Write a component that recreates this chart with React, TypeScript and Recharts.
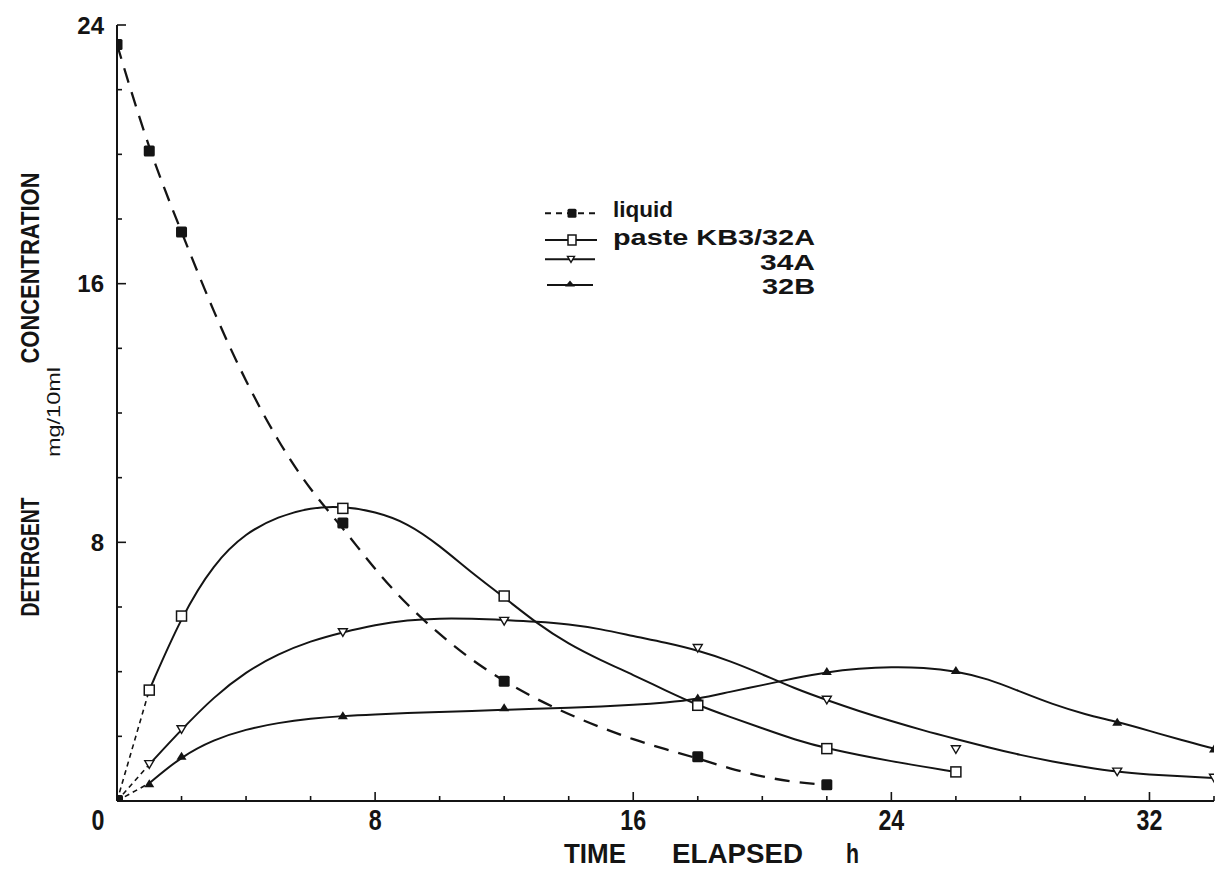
import { LineChart, Line, XAxis, YAxis, Legend } from 'recharts'

// time elapsed (h) and detergent concentration (mg/10ml)
const timeTicks = [0, 2, 4, 6, 8, 10, 12, 14, 16, 18, 20, 22, 24, 26, 28, 30, 32, 34]
const concTicks = [0, 2, 4, 6, 8, 10, 12, 14, 16, 18, 20, 22, 24]

// measured points
const liquidPoints = [[0, 23.4], [1, 20.1], [2, 17.6], [7, 8.6], [12, 3.7], [18, 1.37], [22, 0.5]]
const paste32APoints = [[1, 3.43], [2, 5.72], [7, 9.05], [12, 6.34], [18, 2.96], [22, 1.62], [26, 0.9]]
const paste34APoints = [[1, 1.13], [2, 2.21], [7, 5.21], [12, 5.56], [18, 4.72], [22, 3.12], [26, 1.59], [31, 0.9], [34, 0.71]]
const paste32BPoints = [[1, 0.55], [2, 1.4], [7, 2.65], [12, 2.9], [18, 3.2], [22, 4.02], [26, 4.05], [31, 2.45], [34, 1.62]]

// hand-drawn curves
const liquidCurve = [[0, 23.4], [1, 20.1], [2, 17.6], [3, 15.1], [4, 12.95], [5, 11.1], [6, 9.6], [7, 8.45], [8, 7.15], [9, 6.05], [10, 5.15], [11, 4.35], [12, 3.7], [13, 3.15], [14, 2.68], [15, 2.27], [16, 1.9], [17, 1.6], [18, 1.32], [19, 1.0], [20, 0.75], [21, 0.58], [22, 0.5]]
const paste32ACurve = [[1, 3.43], [2, 5.72], [3, 7.35], [4, 8.3], [5, 8.8], [6, 9.08], [7, 9.12], [8, 8.95], [9, 8.6], [10, 7.9], [11, 7.05], [12, 6.3], [13, 5.5], [14, 4.85], [15, 4.35], [16, 3.9], [17, 3.42], [18, 2.96], [19, 2.6], [20, 2.25], [21, 1.9], [22, 1.62], [24, 1.22], [26, 0.9]]
const paste34ACurve = [[1, 1.13], [2, 2.21], [3, 3.22], [4, 4.0], [5, 4.55], [6, 4.95], [7, 5.22], [8, 5.45], [9, 5.6], [10, 5.65], [11, 5.64], [12, 5.6], [13, 5.55], [14, 5.47], [15, 5.32], [16, 5.1], [17, 4.9], [18, 4.66], [19, 4.33], [20, 3.92], [21, 3.48], [22, 3.12], [23, 2.78], [24, 2.47], [25, 2.18], [26, 1.92], [27, 1.66], [28, 1.42], [29, 1.22], [30, 1.05], [31, 0.9], [32, 0.82], [33, 0.76], [34, 0.71]]
const paste32BCurve = [[1, 0.55], [2, 1.38], [3, 1.9], [4, 2.22], [5, 2.42], [6, 2.55], [7, 2.63], [8, 2.68], [9, 2.72], [10, 2.75], [11, 2.78], [12, 2.82], [13, 2.85], [14, 2.88], [15, 2.92], [16, 2.97], [17, 3.04], [18, 3.15], [19, 3.38], [20, 3.58], [21, 3.8], [22, 3.99], [23, 4.1], [24, 4.15], [25, 4.13], [26, 4.02], [27, 3.78], [28, 3.38], [29, 2.99], [30, 2.68], [31, 2.45], [32, 2.17], [33, 1.88], [34, 1.62]]

const legendLabels = ['liquid', 'paste KB3/32A', '34A', '32B']

const rows = (pts: number[][]) => pts.map(([x, y]) => ({ x, y }))
const leadIn = (pts: number[][]) => rows([[0, 0], pts[0]])

const INK = '#141414'
const FONT = '"Liberation Sans", Arial, Helvetica, sans-serif'

function FilledSquare({ cx, cy, s = 11 }: any) {
  return <rect x={cx - s / 2} y={cy - s / 2} width={s} height={s} rx={1.5} fill={INK} />
}
function OpenSquare({ cx, cy, w = 10, h = 10 }: any) {
  return <rect x={cx - w / 2} y={cy - h / 2} width={w} height={h} fill="#fff" stroke={INK} strokeWidth={1.5} />
}
function DownTriangle({ cx, cy, s = 9 }: any) {
  const h = s * 0.85
  return <path d={`M${cx - s / 2},${cy - h / 2} L${cx + s / 2},${cy - h / 2} L${cx},${cy + h / 2} Z`} fill="#fff" stroke={INK} strokeWidth={1.4} />
}
function UpTriangle({ cx, cy, s = 10, h = 8 }: any) {
  return <path d={`M${cx - s / 2},${cy + h / 2} L${cx + s / 2},${cy + h / 2} L${cx},${cy - h / 2} Z`} fill={INK} />
}

function TimeTick({ x, y, payload }: any) {
  const v = payload.value
  const major = v % 8 === 0
  return (
    <g>
      <line x1={x} x2={x} y1={y} y2={y - (major ? 9 : 5)} stroke={INK} strokeWidth={1.6} />
      {major && (
        <text
          transform={`translate(${v === 0 ? x - 19 : x},${y + 29}) scale(0.8,1)`}
          textAnchor="middle"
          fontFamily={FONT}
          fontWeight="bold"
          fontSize={29}
          fill={INK}
        >
          {v}
        </text>
      )}
    </g>
  )
}

function ConcTick({ x, y, payload }: any) {
  const v = payload.value
  const major = v % 8 === 0
  return (
    <g>
      <line x1={x} x2={x + (major ? 9 : 5)} y1={y} y2={y} stroke={INK} strokeWidth={1.6} />
      {major && v !== 0 && (
        <text x={x - 13} y={y + 8.5} textAnchor="end" fontFamily={FONT} fontWeight="bold" fontSize={24} fill={INK}>
          {v}
        </text>
      )}
    </g>
  )
}

function TimeTitle() {
  const common = { fontFamily: FONT, fontWeight: 'bold' as const, fontSize: 28, fill: INK, lengthAdjust: 'spacingAndGlyphs' as const }
  return (
    <g>
      <text x={564} y={863} textLength={62} {...common}>TIME</text>
      <text x={672} y={863} textLength={131} {...common}>ELAPSED</text>
      <text x={846} y={863} textLength={13} {...common}>h</text>
    </g>
  )
}

function ConcTitle() {
  const common = { fontFamily: FONT, fontWeight: 'bold' as const, fontSize: 26, fill: INK, textAnchor: 'middle' as const, lengthAdjust: 'spacingAndGlyphs' as const }
  return (
    <g>
      <text x={39} y={557} transform="rotate(-90 39 557)" textLength={119} {...common}>DETERGENT</text>
      <text x={39} y={268} transform="rotate(-90 39 268)" textLength={191} {...common}>CONCENTRATION</text>
      <text x={60} y={412} transform="rotate(-90 60 412)" textLength={90} lengthAdjust="spacingAndGlyphs" textAnchor="middle" fontFamily={FONT} fontSize={18} fill={INK}>
        mg/10ml
      </text>
    </g>
  )
}

function LegendBox() {
  const txt = { fontFamily: FONT, fontWeight: 'bold' as const, fontSize: 22, fill: INK, lengthAdjust: 'spacingAndGlyphs' as const }
  return (
    <svg width={300} height={120} style={{ display: 'block' }}>
      <line x1={5} x2={57} y1={23.3} y2={23.3} stroke={INK} strokeWidth={2} strokeDasharray="6 5" />
      <FilledSquare cx={32} cy={23.3} s={9} />
      <text x={73} y={27} textLength={60} {...txt}>{legendLabels[0]}</text>

      <line x1={5} x2={57} y1={50} y2={50} stroke={INK} strokeWidth={2} />
      <OpenSquare cx={32} cy={50} w={8} h={10} />
      <text x={275} y={55} textAnchor="end" textLength={202} {...txt}>{legendLabels[1]}</text>

      <line x1={5} x2={55} y1={69.3} y2={69.3} stroke={INK} strokeWidth={2} />
      <DownTriangle cx={31} cy={69.3} s={7} />
      <text x={275} y={79.5} textAnchor="end" textLength={55} {...txt}>{legendLabels[2]}</text>

      <line x1={7} x2={53} y1={95} y2={95} stroke={INK} strokeWidth={2} />
      <UpTriangle cx={30} cy={93.5} s={10} h={6} />
      <text x={275} y={104} textAnchor="end" textLength={53} {...txt}>{legendLabels[3]}</text>
    </svg>
  )
}

const markerDot = (Shape: any) => (p: any) =>
  p.cx == null ? <g key={p.index} /> : <Shape key={p.index} cx={p.cx} cy={p.cy} />

const originDot = (p: any) =>
  p.index === 0 && p.cx != null ? <FilledSquare key={p.index} cx={p.cx + 2} cy={p.cy - 2} s={8} /> : <g key={p.index} />

const curveProps = {
  dataKey: 'y',
  type: 'basis' as const,
  stroke: INK,
  strokeWidth: 2,
  dot: false,
  activeDot: false,
  isAnimationActive: false,
  legendType: 'none' as const,
}

const leadProps = { ...curveProps, type: 'linear' as const, strokeWidth: 1.6, strokeDasharray: '5 4' }

const pointProps = {
  dataKey: 'y',
  type: 'linear' as const,
  stroke: 'none',
  activeDot: false,
  isAnimationActive: false,
  legendType: 'none' as const,
}

export default function App() {
  return (
    <div style={{ position: 'absolute', left: 0, top: 0, width: 1228, height: 877, background: '#fff' }}>
      <LineChart width={1228} height={877} margin={{ top: 25, right: 14, bottom: 0, left: 0 }}>
        <XAxis
          dataKey="x"
          type="number"
          domain={[0, 34]}
          ticks={timeTicks}
          interval={0}
          allowDataOverflow
          height={76}
          tickSize={0}
          tickMargin={0}
          tickLine={false}
          axisLine={{ stroke: INK, strokeWidth: 2 }}
          tick={(p: any) => <TimeTick {...p} />}
          label={{ content: () => <TimeTitle /> }}
        />
        <YAxis
          type="number"
          domain={[0, 24]}
          ticks={concTicks}
          interval={0}
          allowDataOverflow
          width={117}
          tickSize={0}
          tickMargin={0}
          tickLine={false}
          axisLine={{ stroke: INK, strokeWidth: 2 }}
          tick={(p: any) => <ConcTick {...p} />}
          label={{ content: () => <ConcTitle /> }}
        />
        <Legend
          layout="horizontal"
          verticalAlign="middle"
          align="center"
          content={() => <LegendBox />}
          wrapperStyle={{ position: 'absolute', left: 540, top: 190, width: 300, height: 120 }}
        />

        <Line {...leadProps} data={leadIn(paste32APoints)} />
        <Line {...leadProps} data={leadIn(paste34APoints)} />
        <Line {...leadProps} data={leadIn(paste32BPoints)} dot={originDot} />

        <Line {...curveProps} data={rows(liquidCurve)} strokeWidth={2.3} strokeDasharray="15 10" />
        <Line {...curveProps} data={rows(paste32ACurve)} />
        <Line {...curveProps} data={rows(paste34ACurve)} />
        <Line {...curveProps} data={rows(paste32BCurve)} />

        <Line {...pointProps} data={rows(liquidPoints)} dot={markerDot(FilledSquare)} />
        <Line {...pointProps} data={rows(paste32APoints)} dot={markerDot(OpenSquare)} />
        <Line {...pointProps} data={rows(paste34APoints)} dot={markerDot(DownTriangle)} />
        <Line {...pointProps} data={rows(paste32BPoints)} dot={markerDot(UpTriangle)} />
      </LineChart>
    </div>
  )
}
